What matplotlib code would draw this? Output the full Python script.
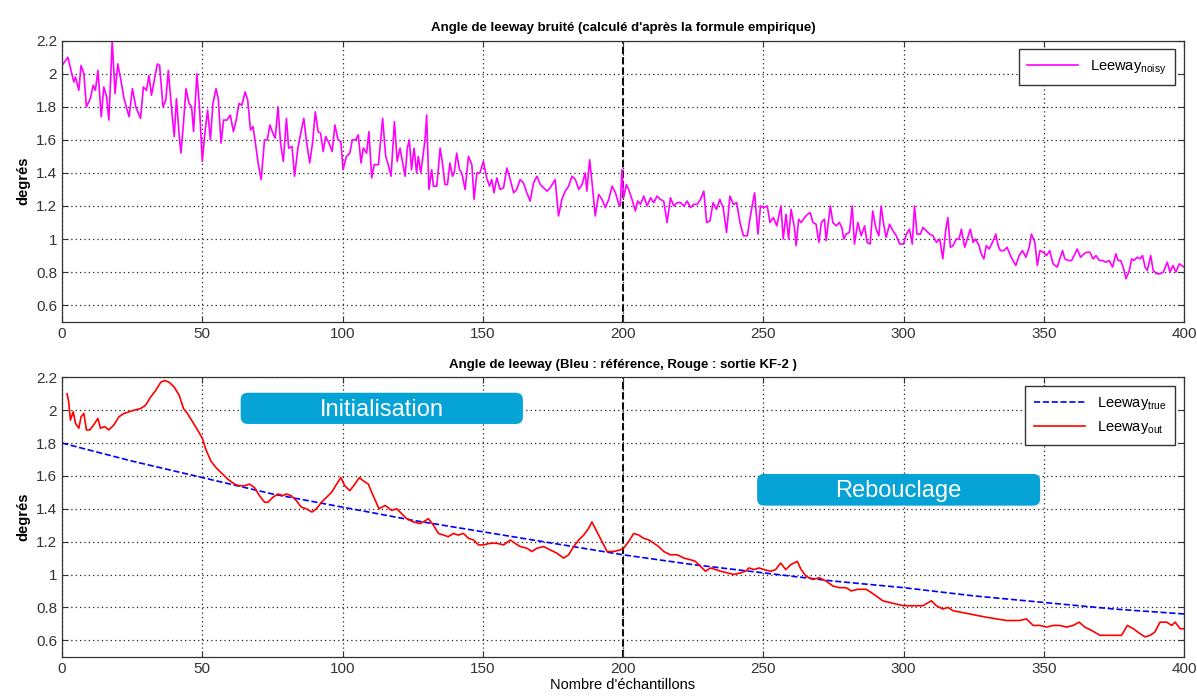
import numpy as np
import matplotlib
matplotlib.use("Agg")
import matplotlib.pyplot as plt
from matplotlib.patches import FancyBboxPatch

plt.rcParams["font.family"] = ["Liberation Sans", "DejaVu Sans"]
plt.rcParams["mathtext.default"] = "regular"

# ----------------------------
# Data
# ----------------------------
noisy_x = [0, 2.1, 4.2, 4.8, 6, 6.8, 7.8, 8.7, 10.1, 11.1, 11.9, 12.8, 14, 14.9, 15.9, 16.7,
           17.9, 18.9, 19.9, 20.9, 22.1, 23.9, 25.1, 26.3, 28, 29, 30.1, 31, 31.9, 32.8, 34,
           34.8, 36, 37, 37.9, 39, 40, 40.8, 41.8, 42.4, 43.3, 44.2, 45.3, 46.2, 46.9, 48.1,
           49, 50, 51, 51.9, 52.9, 53.8, 54.9, 55.7, 56.7, 57.6, 58.8, 60, 61.1, 62.1, 63.1,
           64.1, 65.3, 66.2, 67.2, 68.1, 69.2, 70, 71, 72.2, 73.2, 74.1, 75.2, 76, 77, 77.9,
           78.9, 80, 80.8, 82, 82.9, 84.1, 85.1, 86.2, 87.1, 88.3, 89.3, 90.3, 91.3, 92.2,
           93.1, 94, 95.2, 96.3, 97.3, 98.4, 99.4, 100.2, 101.4, 102.6, 103.5, 104.7, 105.6,
           106.6, 107.4, 108.6, 109.4, 110.4, 111.3, 112.8, 114.3, 115.4, 116.3, 117.3, 118.5,
           119.5,
           120.5, 122.3, 123.1, 123.8, 124.6, 125.5, 126.4, 127, 127.9, 128.8, 129.4, 130,
           130.8, 131.8, 132.4, 133.6, 134.8, 135.7, 136.5, 137.4, 138.3, 139.2, 139.8, 140.7,
           141.7, 142.5, 143.7, 144.9, 146.1, 146.9, 147.9, 149, 150.2, 151.4, 152.4, 153.2,
           154, 155, 156.2, 157.4, 158.6, 159.8, 161, 162.1, 163.3, 164.5, 165.7, 166.9,
           168.1, 169.3, 170.5, 171.7, 172.9, 174, 175.8, 177, 178.2, 179.4, 180.6, 181.8,
           183, 184.2, 185.4, 186.5, 187.1, 188.1, 188.9, 190.1, 191.3, 192.5, 193.7, 194.9,
           196.1, 197.3, 198.5, 199, 199.6, 200.2, 201.2, 202, 203.2, 204.4, 205.2, 206.2,
           207.4, 208.6, 209.8, 211, 212.1, 213.3, 214.5, 215.7, 216.9, 218.1, 219.3, 220.5,
           221.7, 222.9, 224, 225.2, 226.4, 227.6, 228.8, 229.8, 231, 232.1, 233.3, 234.5,
           235.7, 236.9, 238.1, 239.3, 240.5, 241.7, 242.9, 244.3, 245.5, 246.9, 248.1, 249,
           250.2, 251.4, 252.4, 253.6, 254.8,
           256.3, 257.1, 258.1, 259, 259.9, 261.1, 261.7, 262.6, 263.5, 264.7, 265.8, 266.7,
           267.7, 268.8, 269.8, 270.7, 271.8, 272.4, 273.9, 274.8, 276, 277.1, 278, 278.7,
           279.5, 280.7, 281.7, 282.5, 283.7, 284.9, 286.1, 287, 288.1, 289, 290.2, 291.2,
           292, 292.9, 293.8, 295, 296.2, 297.4, 298.6, 300, 301, 302.1, 303.1, 303.9, 304.8,
           306, 306.9, 308.1, 309.3, 310.5, 311.7, 312.9, 314, 315, 315.8, 316.7, 317.6,
           318.8, 319.8, 320.6, 321.8, 322.7, 323.8, 324.8, 325.7, 326.9, 327.7, 328.6,
           329.5, 330.5, 331.7, 332.9, 333.7, 334.5, 335.7, 336.9, 338.1, 339, 340, 341.2,
           342.4, 343.6, 344.8, 345.6, 346.8, 347.7, 348.6, 349.8, 351, 352.1, 353.3, 354.8,
           355.7, 356.7, 357.5, 358.7, 359.9, 361.1, 361.9, 363.1, 364.3, 365.2, 366.4,
           367.6, 368.6, 369.8, 371, 372.1, 373.3, 374.5, 375.7, 376.5, 377.4, 378.3, 379.3,
           380.5, 381.3, 382.1, 383.3, 384.3, 385.2, 386.1, 386.9, 388.1, 389, 390.2, 391.4,
           392.6, 394, 395, 396, 397.1, 398.3, 400]
noisy_y = [2.05, 2.1, 1.95, 1.98, 1.9, 2.05, 2.0, 1.8, 1.85, 1.93, 1.9, 2.02, 1.74, 1.92, 1.86,
           1.72, 2.2, 1.88, 2.06, 1.97, 1.85, 1.74, 1.91, 1.8, 1.73, 1.92, 1.9, 1.99, 1.87,
           1.95, 2.06, 2.05, 1.8, 1.84, 2.02, 1.8, 1.62, 1.85, 1.62, 1.52, 1.7, 1.91, 1.82,
           1.8, 1.65, 2.0, 1.8, 1.47, 1.65, 1.78, 1.6, 1.82, 1.91, 1.85, 1.58, 1.72, 1.72,
           1.75, 1.65, 1.72, 1.82, 1.81, 1.89, 1.84, 1.66, 1.68, 1.55, 1.45, 1.36, 1.6, 1.6,
           1.69, 1.64, 1.61, 1.8, 1.58, 1.47, 1.73, 1.55, 1.56, 1.38, 1.55, 1.64, 1.73, 1.6,
           1.46, 1.58, 1.77, 1.65, 1.64, 1.53, 1.62, 1.58, 1.53, 1.69, 1.6, 1.59, 1.42, 1.5,
           1.52, 1.6, 1.6, 1.63, 1.46, 1.55, 1.52, 1.65, 1.37, 1.45, 1.45, 1.73, 1.5, 1.45,
           1.38, 1.71, 1.47,
           1.55, 1.38, 1.55, 1.6, 1.42, 1.55, 1.4, 1.5, 1.4, 1.52, 1.6, 1.75, 1.3, 1.42, 1.32,
           1.32, 1.55, 1.45, 1.33, 1.33, 1.46, 1.38, 1.4, 1.52, 1.42, 1.4, 1.3, 1.5, 1.45,
           1.24, 1.4, 1.4, 1.47, 1.37, 1.32, 1.36, 1.28, 1.37, 1.3, 1.31, 1.43, 1.36, 1.28,
           1.3, 1.36, 1.34, 1.28, 1.23, 1.34, 1.38, 1.33, 1.31, 1.29, 1.31, 1.36, 1.14, 1.24,
           1.29, 1.32, 1.38, 1.36, 1.3, 1.33, 1.4, 1.29, 1.48, 1.35, 1.14, 1.27, 1.24, 1.19,
           1.24, 1.32, 1.28, 1.21, 1.2, 1.42, 1.25, 1.33, 1.3, 1.24, 1.17, 1.23, 1.21, 1.26,
           1.2, 1.25, 1.22, 1.26, 1.24, 1.23, 1.1, 1.25, 1.2, 1.22, 1.22, 1.2, 1.23, 1.19,
           1.21, 1.21, 1.24, 1.29, 1.1, 1.11, 1.22, 1.18, 1.24, 1.19, 1.04, 1.26, 1.21, 1.22,
           1.1, 1.02, 1.02, 1.15, 1.28, 1.03, 1.2, 1.19, 1.2, 1.1, 1.13, 1.08,
           1.2, 1.0, 1.15, 1.0, 1.18, 1.07, 0.96, 1.12, 1.1, 1.13, 1.15, 1.16, 1.1, 1.09,
           0.98, 1.1, 1.12, 0.99, 1.2, 1.1, 1.08, 1.1, 1.07, 1.0, 1.03, 1.04, 1.2, 0.97, 1.1,
           1.02, 1.08, 0.98, 0.97, 1.17, 1.06, 1.02, 1.2, 1.09, 1.01, 1.09, 1.05, 1.02, 0.97,
           0.97, 1.03, 1.06, 0.97, 1.2, 1.03, 1.03, 1.07, 1.05, 1.03, 1.02, 0.98, 1.0, 0.88,
           1.05, 1.13, 0.95, 0.96, 1.0, 1.0, 1.06, 0.95, 1.0, 1.06, 0.98, 1.0, 0.96, 0.91,
           0.88, 0.96, 0.94, 0.98, 1.03, 0.96, 0.93, 0.93, 0.95, 0.9, 0.87, 0.84, 0.9, 0.93,
           0.89, 0.95, 1.03, 0.98, 0.84, 0.93, 0.92, 0.9, 0.93, 0.85, 0.83, 0.88, 0.93, 0.88,
           0.87, 0.87, 0.91, 0.94, 0.89, 0.91, 0.92, 0.92, 0.88, 0.9, 0.87, 0.87, 0.86, 0.87,
           0.83, 0.91, 0.87, 0.87, 0.83, 0.76, 0.81, 0.88, 0.87, 0.89, 0.88, 0.9, 0.83, 0.81,
           0.9, 0.81, 0.79, 0.79, 0.8, 0.86, 0.8, 0.84, 0.8, 0.85, 0.83]

true_x = [0, 25, 50, 75, 100, 125, 150, 175, 200, 225, 250, 275, 300, 325, 350, 375, 400]
true_y = [1.80, 1.69, 1.59, 1.49, 1.41, 1.33, 1.26, 1.19, 1.12, 1.06, 1.01, 0.96, 0.92,
          0.87, 0.83, 0.79, 0.76]

out_x = [1.8, 2.4, 3, 4, 4.8, 6, 6.8, 7.8, 8.7, 9.9, 11.3, 12.8, 13.7, 15.2, 16.7, 18.5, 20.3,
         22.1, 23.9, 25.7, 28, 29.8, 31.6, 33.4, 35.2, 36.6, 38.2, 40, 41.8, 43.3, 44.7, 46.5,
         48.3, 50, 51.3, 53.1, 54.9, 56.7, 59.1, 61.5, 63.2, 65, 66.8, 68.6, 70.4, 72.2, 73.4,
         75.2, 77, 78.8, 80, 81.7, 83.5, 85.3, 87.1, 89.1, 90.7, 92.5, 94.3, 96.1, 97.9, 99.4,
         100.8, 102.6, 104.4, 106, 107.4, 109.2, 110.4, 112.2, 113, 115.2, 117.5, 119.3,
         122.9, 125.2, 127.6, 128.8, 130.6, 132.4, 134.2, 136, 137.7, 139.5, 141.3, 143.1,
         144.9, 146.7, 148.5, 150.2, 152.6, 155, 157.4, 159.8, 161.5, 163.3, 165.7, 167.5,
         169.3, 171.7, 174, 176.4, 178.8, 180.6, 182.4, 184.2, 186, 187.7, 188.9, 190.7,
         192.5, 194.3, 196.7, 199, 200.2, 202, 203.8, 205.6, 207.4, 209.2, 211, 212.7, 214.5,
         216.9, 219.3, 221.7, 224, 225.8, 227.6, 229.4, 231.2, 233, 234.8, 237.1, 239.5,
         241.9, 243.7, 244.9, 246.7, 248.5, 250.2, 252.6, 254.4, 256.2, 258, 259.8, 262.1,
         263.5, 265.2, 267.6, 270, 272.4, 274.8, 277.1, 279.5, 281.3, 283.7, 286.7, 288.5,
         290.2, 292.6, 295, 297.4, 300, 303.3, 306.9, 309.9, 311.7, 314, 315.8, 317.6, 320.6,
         323.6, 326.5, 329.5, 333.1, 336.7, 339, 341.4, 343.8, 346.2, 348.6, 351, 353.3,
         355.7, 358.1, 360.5, 362.6, 364.6, 367, 370, 372.4, 374.8, 377.7, 379.8, 381.9,
         384.3, 386.1, 387.9, 389.6, 391.4, 393.8, 395.6, 396.8, 398.6, 400]
out_y = [2.1, 2.05, 1.94, 1.99, 1.92, 1.89, 1.96, 1.98, 1.88, 1.88, 1.91, 1.95, 1.89, 1.9,
         1.88, 1.91, 1.96, 1.98, 1.99, 2.0, 2.01, 2.03, 2.08, 2.12, 2.17, 2.18, 2.17, 2.14,
         2.09, 2.01, 1.98, 1.93, 1.88, 1.83, 1.76, 1.69, 1.65, 1.62, 1.58, 1.55, 1.54, 1.54,
         1.55, 1.53, 1.48, 1.44, 1.44, 1.47, 1.49, 1.48, 1.49, 1.48, 1.45, 1.41, 1.4, 1.38,
         1.4, 1.44, 1.47, 1.5, 1.55, 1.59, 1.54, 1.51, 1.55, 1.59, 1.57, 1.55, 1.5, 1.43, 1.4,
         1.42, 1.39, 1.4, 1.34, 1.32, 1.31, 1.32, 1.34, 1.3, 1.25, 1.24, 1.23, 1.25, 1.24,
         1.25, 1.22, 1.21, 1.18, 1.18, 1.19, 1.19, 1.18, 1.21, 1.19, 1.17, 1.16, 1.14, 1.16,
         1.17, 1.15, 1.13, 1.1, 1.12, 1.17, 1.21, 1.24, 1.28, 1.32, 1.26, 1.2, 1.14, 1.14,
         1.15, 1.16, 1.2, 1.25, 1.24, 1.22, 1.21, 1.19, 1.17, 1.14, 1.12, 1.12, 1.1, 1.09,
         1.08, 1.05, 1.02, 1.04, 1.03, 1.02, 1.01, 1.0, 1.01, 1.02, 1.04, 1.03, 1.04, 1.03,
         1.02, 1.03, 1.07, 1.03, 1.06, 1.08, 1.03, 0.99, 0.97, 0.98, 0.96, 0.93, 0.92, 0.92,
         0.9, 0.91, 0.91, 0.89, 0.87, 0.84, 0.83, 0.82, 0.81, 0.81, 0.81, 0.84, 0.81, 0.79,
         0.8, 0.78, 0.77, 0.76, 0.75, 0.74, 0.73, 0.72, 0.72, 0.72, 0.73, 0.69, 0.69, 0.68,
         0.69, 0.69, 0.68, 0.69, 0.71, 0.68, 0.66, 0.63, 0.63, 0.63, 0.63, 0.69, 0.67, 0.64,
         0.62, 0.63, 0.65, 0.71, 0.71, 0.69, 0.71, 0.67, 0.67]

y_ticks = [0.6, 0.8, 1.0, 1.2, 1.4, 1.6, 1.8, 2.0, 2.2]
y_labels = ["0.6", "0.8", "1", "1.2", "1.4", "1.6", "1.8", "2", "2.2"]
x_ticks = [0, 50, 100, 150, 200, 250, 300, 350, 400]

box_color = "#05A3D6"

# ----------------------------
# Figure
# ----------------------------
fig = plt.figure(figsize=(11.97, 6.96), dpi=100)
ax1 = fig.add_axes([0.0518, 0.5378, 0.9374, 0.4037])
ax2 = fig.add_axes([0.0518, 0.0565, 0.9374, 0.4014])


def style_axes(ax):
    ax.set_xlim(0, 400)
    ax.set_ylim(0.5, 2.2)
    ax.set_xticks(x_ticks)
    ax.set_yticks(y_ticks)
    ax.set_yticklabels(y_labels)
    ax.tick_params(direction="in", length=4, labelsize=11, colors="#333333",
                   top=True, right=True)
    ax.grid(True, color="#222222", linestyle=(0, (1, 2.5)), linewidth=0.9)
    ax.axvline(200, color="black", linestyle="--", linewidth=1.4, zorder=1)
    for s in ax.spines.values():
        s.set_color("#333333")
        s.set_linewidth(0.9)
    ax.set_ylabel("degrés", fontsize=10.5, fontweight="bold")


# top : noisy leeway
ax1.plot(noisy_x, noisy_y, color="magenta", linewidth=1.2, label="Leeway$_{noisy}$")
style_axes(ax1)
ax1.set_title("Angle de leeway bruité (calculé d'après la formule empirique)",
              fontsize=9.5, fontweight="bold", pad=7)
ax1.legend(loc="upper right", fancybox=False, framealpha=1, edgecolor="#333333",
           fontsize=10.5, borderaxespad=0.6, handlelength=3.5, borderpad=0.6)

# bottom : true vs KF output
ax2.plot(true_x, true_y, color="blue", linestyle="--", linewidth=1.2, label="Leeway$_{true}$")
ax2.plot(out_x, out_y, color="red", linewidth=1.2, label="Leeway$_{out}$")
style_axes(ax2)
ax2.set_title("Angle de leeway (Bleu : référence, Rouge : sortie KF-2 )",
              fontsize=9.5, fontweight="bold", pad=7)
ax2.set_xlabel("Nombre d'échantillons", fontsize=10.5, labelpad=2)
ax2.legend(loc="upper right", fancybox=False, framealpha=1, edgecolor="#333333",
           fontsize=10.5, borderaxespad=0.6, handlelength=3.5, borderpad=0.6)

# phase labels
aspect = (1.7 / 279.4) / (400 / 1122)
for (x0, x1, y0, y1, label) in [(63.7, 164.3, 1.916, 2.106, "Initialisation"),
                                (247.8, 348.7, 1.419, 1.612, "Rebouclage")]:
    patch = FancyBboxPatch((x0, y0), x1 - x0, y1 - y0,
                           boxstyle="round,pad=0,rounding_size=2.5",
                           mutation_aspect=aspect, facecolor=box_color,
                           edgecolor="none", zorder=3)
    ax2.add_patch(patch)
    ax2.text((x0 + x1) / 2, (y0 + y1) / 2 - 0.008, label, color="white", fontsize=17,
             ha="center", va="center", zorder=4)

fig.savefig("out.png", dpi=100)
